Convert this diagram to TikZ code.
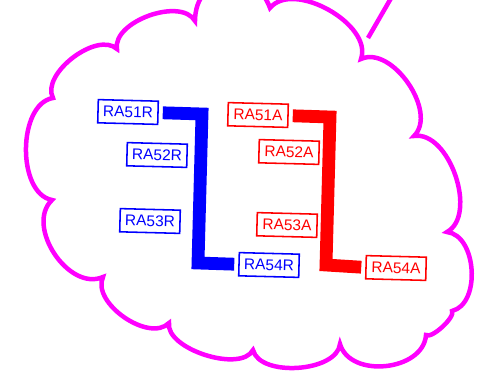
\documentclass[tikz,border=0pt]{standalone}
\usepackage{fontspec}
\setsansfont{Liberation Sans}
\usepackage{tikz}
\definecolor{nubecolor}{RGB}{255,0,255}

\begin{document}
\begin{tikzpicture}[
	etiq/.style={draw, line width=1.1pt, rotate=-1.5, minimum width=1.5cm, minimum height=0.58cm, inner sep=1pt, font=\sffamily\fontsize{11}{13}\selectfont},
	barra/.style={line width=0.32cm, line join=miter},
	nube/.style={nubecolor, line width=3.2pt, line join=miter},
	bump/.style={bend left=80, looseness=#1}]
		\useasboundingbox (0,0) rectangle (12.475,9.325);
		\draw[nube] (1.325,6.875) to[bump=.86] (2.925,8.1) to[bump=.86] (4.875,8.8) to[bump=1.6] (6.75,9.125)
			to[bump=.9] (9.025,7.85) to[bump=.93] (10.35,5.925) to[bump=.9] (11.175,3.525) to[bump=.97] (11.3,1.55)
			to[bump=.5] (10.65,.95) to[bump=1.07] (8.5,.725) to[bump=.83] (6.325,.575) to[bump=.76] (4.225,1.25)
			to[bump=.9] (2.575,2.4) to[bump=1.04] (1.3,4.325) to[bump=.9] cycle;
		\draw[nube] (9.2,8.375) -- (9.85,9.5);
		\node[etiq, blue] (ra51r) at (3.2,6.525) {RA51R};
		\node[etiq, blue] (ra52r) at (3.925,5.45) {RA52R};
		\node[etiq, blue] (ra53r) at (3.75,3.8) {RA53R};
		\node[etiq, blue] (ra54r) at (6.725,2.7) {RA54R};
		\node[etiq, red] (ra51a) at (6.45,6.45) {RA51A};
		\node[etiq, red] (ra52a) at (7.225,5.525) {RA52A};
		\node[etiq, red] (ra53a) at (7.175,3.7) {RA53A};
		\node[etiq, red] (ra54a) at (9.9,2.625) {RA54A};
		\coordinate (rarriba) at (5.05,6.475);
		\coordinate (rabajo) at (4.95,2.75);
		\coordinate (aarriba) at (8.25,6.4);
		\coordinate (aabajo) at (8.15,2.7);
		\draw[barra, blue] ([xshift=1mm]ra51r.east) -- (rarriba) -- (rabajo) -- ([xshift=-1mm]ra54r.west);
		\draw[barra, red] ([xshift=1mm]ra51a.east) -- (aarriba) -- (aabajo) -- ([xshift=-1mm]ra54a.west);
	\end{tikzpicture}
\end{document}
